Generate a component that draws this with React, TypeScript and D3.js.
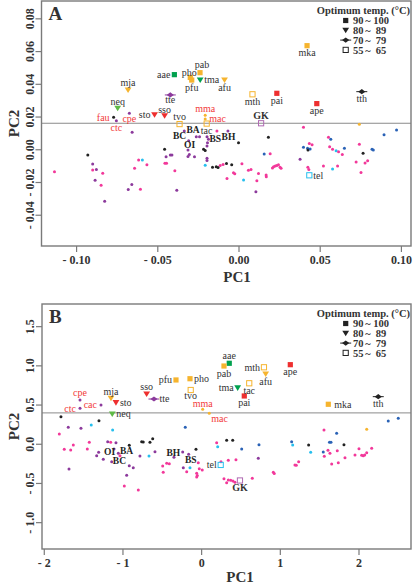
import React from 'react';
import * as d3 from 'd3';

const FONT = '"Liberation Serif","Times New Roman",serif';

const COLORS: Record<string, string> = {
  k: '#222222', p: '#8C3A9C', m: '#F2389A', c: '#26BFEE', b: '#2A62B6',
  o: '#F6B42E', r: '#EE2F2F', g: '#00A14E', y: '#5FB946', v: '#B06AB3',
};

const RED_LABELS = ['fau', 'cpe', 'ctc', 'mma', 'mac', 'cac'];
const BOLD_LABELS = ['GK'];

// ---------- Panel A data ----------
const labeledA: [string, number, number, string, string][] = [
  ['aae', -0.0398, 0.0459, 'g', 'sq'],
  ['pab', -0.0240, 0.0471, 'o', 'sq'],
  ['pho', -0.0300, 0.0442, 'o', 'sq'],
  ['pfu', -0.0291, 0.0426, 'o', 'sq'],
  ['tma', -0.0239, 0.0426, 'g', 'tri'],
  ['afu', -0.0089, 0.0426, 'o', 'tri'],
  ['mja', -0.0683, 0.0365, 'o', 'tri'],
  ['tte', -0.0423, 0.0335, 'p', 'dia'],
  ['neq', -0.0747, 0.0253, 'y', 'tri'],
  ['fau', -0.0772, 0.0198, 'k', 'dot'],
  ['cpe', -0.0675, 0.0223, 'p', 'dot'],
  ['ctc', -0.0755, 0.0178, 'p', 'dot'],
  ['sto', -0.0520, 0.0214, 'r', 'tri'],
  ['sso', -0.0458, 0.0208, 'r', 'tri'],
  ['tvo', -0.0366, 0.0157, 'o', 'open'],
  ['mma', -0.0208, 0.0211, 'o', 'dot'],
  ['mac', -0.0208, 0.0188, 'o', 'dot'],
  ['tac', -0.0199, 0.0160, 'o', 'open'],
  ['GK', 0.0136, 0.0162, 'v', 'open'],
  ['mth', 0.0083, 0.0339, 'o', 'open'],
  ['pai', 0.0233, 0.0345, 'r', 'sq'],
  ['mka', 0.0419, 0.0636, 'o', 'sq'],
  ['ape', 0.0479, 0.0282, 'r', 'sq'],
  ['tth', 0.0756, 0.0355, 'k', 'dia'],
  ['tel', 0.0433, -0.0156, 'c', 'open'],
];

const placeA: Record<string, string> = {
  aae: 'l', pab: 't', pho: 't', pfu: 'b', tma: 'r', afu: 'b', mja: 't', tte: 'b', neq: 't',
  fau: 'l', cpe: 'b', ctc: 'b', sto: 'l', sso: 't', tvo: 't', mma: 't', mac: 'r', tac: 'b',
  GK: 't', mth: 'b', pai: 'b', mka: 'b', ape: 'b', tth: 'b', tel: 'r',
};
const nudgeA: Record<string, [number, number]> = {
  pab: [2, -0.8], pho: [-1, 2], tte: [0, -2], sso: [0, 1.5], cpe: [0, -2], mma: [0, 1],
};

const clustersA: [string, number, number][] = [
  ['BA', -0.0283, 0.0121], ['BC', -0.0366, 0.0084], ['OI', -0.0304, 0.0033],
  ['BS', -0.0146, 0.0068], ['BH', -0.0065, 0.0080],
];

const dotsA: [number, number, string][] = [
  [-0.0658, 0.0107, 'p'], [-0.0458, 0.0003, 'k'], [-0.0337, 0.0115, 'p'], [-0.0263, 0.0080, 'p'],
  [-0.0243, 0.0080, 'p'], [-0.0310, 0.0055, 'p'], [-0.0197, 0.0080, 'p'], [-0.0188, 0.0064, 'p'],
  [-0.0194, 0.0043, 'p'], [-0.0136, 0.0115, 'm'], [-0.0068, 0.0115, 'p'], [-0.0003, 0.0043, 'k'],
  [-0.0314, -0.0002, 'p'], [-0.0218, 0.0003, 'k'], [-0.0208, -0.0005, 'k'], [-0.0197, 0.0023, 'p'],
  [-0.0449, -0.0042, 'p'], [-0.0423, -0.0032, 'p'], [-0.0413, -0.0032, 'p'], [-0.0314, -0.0041, 'p'],
  [-0.0306, -0.0029, 'p'], [-0.0274, -0.0042, 'p'], [-0.0197, -0.0052, 'p'], [-0.0197, -0.0066, 'p'],
  [-0.0456, -0.0083, 'm'], [-0.0446, -0.0083, 'm'], [-0.0618, -0.0063, 'm'], [-0.0595, -0.0063, 'c'],
  [-0.0567, -0.0092, 'm'], [-0.0643, -0.0113, 'm'], [-0.0208, -0.0095, 'c'], [-0.0163, -0.0107, 'k'],
  [-0.0140, -0.0104, 'k'], [-0.0129, -0.0109, 'k'], [-0.0116, -0.0096, 'm'], [-0.0098, -0.0090, 'm'],
  [-0.0077, -0.0084, 'k'], [-0.0045, -0.0091, 'k'], [0.0018, -0.0086, 'm'], [0.0058, -0.0125, 'm'],
  [0.0074, -0.0121, 'm'], [-0.0034, -0.0141, 'm'], [-0.0026, -0.0147, 'm'], [0.0028, -0.0185, 'c'],
  [-0.0074, -0.0175, 'm'], [-0.0395, -0.0128, 'm'], [-0.0660, -0.0212, 'p'], [-0.0682, -0.0243, 'p'],
  [-0.0607, -0.0242, 'm'], [-0.0383, -0.0247, 'p'], [-0.0931, -0.0032, 'k'], [-0.0901, -0.0087, 'p'],
  [-0.1136, -0.0134, 'm'], [-0.0901, -0.0124, 'm'], [-0.0878, -0.0120, 'p'], [-0.0839, -0.0144, 'm'],
  [-0.0886, -0.0187, 'p'], [-0.0849, -0.0217, 'm'], [-0.0827, -0.0315, 'p'], [0.0104, -0.0256, 'p'],
  [0.0110, -0.0189, 'm'], [0.0120, -0.0145, 'm'], [0.0155, -0.0026, 'b'], [0.0192, -0.0025, 'm'],
  [0.0167, -0.0154, 'm'], [0.0168, -0.0165, 'm'], [0.0206, -0.0112, 'm'], [0.0213, -0.0104, 'm'],
  [0.0223, -0.0099, 'm'], [0.0233, -0.0096, 'm'], [0.0243, -0.0091, 'm'], [0.0253, -0.0107, 'm'],
  [0.0259, -0.0113, 'm'], [0.0376, -0.0058, 'p'], [0.0397, 0.0137, 'm'], [0.0181, 0.0076, 'k'],
  [0.0397, 0.0015, 'b'], [0.0422, 0.0009, 'b'], [0.0425, -0.0002, 'k'], [0.0438, 0.0005, 'b'],
  [0.0433, 0.0039, 'm'], [0.0450, 0.0031, 'm'], [0.0424, -0.0107, 'm'], [0.0430, -0.0120, 'm'],
  [0.0520, -0.0099, 'm'], [0.0551, 0.0076, 'm'], [0.0565, 0.0064, 'b'], [0.0558, 0.0019, 'm'],
  [0.0576, 0.0003, 'm'], [0.0598, -0.0006, 'c'], [0.0613, -0.0012, 'm'], [0.0636, -0.0029, 'm'],
  [0.0649, 0.0009, 'b'], [0.0576, -0.0118, 'c'], [0.0607, -0.0099, 'm'], [0.0721, -0.0074, 'm'],
  [0.0741, 0.0034, 'm'], [0.0741, 0.0156, 'o'], [0.0751, -0.0139, 'm'], [0.0764, -0.0022, 'k'],
  [0.0776, -0.0081, 'm'], [0.0792, -0.0067, 'm'], [0.0819, 0.0003, 'b'], [0.0827, -0.0002, 'b'],
  [0.0893, 0.0092, 'b'], [0.0970, 0.0121, 'b'],
];

const xTicksA = [-0.10, -0.05, 0.00, 0.05, 0.10];
const yTicksA = [-0.04, -0.02, 0.00, 0.02, 0.04, 0.06, 0.08];

// ---------- Panel B data ----------
const labeledB: [string, number, number, string, string][] = [
  ['cpe', -1.546, 0.565, 'p', 'dot'],
  ['ctc', -1.546, 0.459, 'p', 'dot'],
  ['cac', -1.279, 0.501, 'p', 'dot'],
  ['mja', -1.152, 0.586, 'o', 'tri'],
  ['sto', -1.089, 0.530, 'r', 'tri'],
  ['neq', -1.136, 0.386, 'y', 'tri'],
  ['sso', -0.699, 0.641, 'r', 'tri'],
  ['tte', -0.606, 0.577, 'p', 'dia'],
  ['pfu', -0.326, 0.820, 'o', 'sq'],
  ['pho', -0.148, 0.836, 'o', 'sq'],
  ['tvo', -0.139, 0.692, 'o', 'open'],
  ['mma', 0.013, 0.446, 'o', 'dot'],
  ['mac', 0.097, 0.395, 'o', 'dot'],
  ['aae', 0.351, 1.033, 'g', 'sq'],
  ['pab', 0.284, 0.998, 'o', 'sq'],
  ['mth', 0.792, 0.982, 'o', 'open'],
  ['afu', 0.814, 0.896, 'o', 'tri'],
  ['ape', 1.127, 1.015, 'r', 'sq'],
  ['tma', 0.458, 0.718, 'g', 'tri'],
  ['tac', 0.605, 0.778, 'o', 'open'],
  ['pai', 0.542, 0.616, 'r', 'sq'],
  ['mka', 1.610, 0.510, 'o', 'sq'],
  ['tth', 2.245, 0.607, 'k', 'dia'],
  ['tel', 0.242, -0.264, 'c', 'open'],
  ['GK', 0.487, -0.462, 'v', 'open'],
];

const placeB: Record<string, string> = {
  cpe: 't', ctc: 'l', cac: 'l', mja: 't', sto: 'r', neq: 'r', sso: 't', tte: 'r', pfu: 'l',
  pho: 'r', tvo: 'b', mma: 't', mac: 'rb', aae: 't', pab: 'b', mth: 'l', afu: 'b', ape: 'b',
  tma: 'l', tac: 'b', pai: 'b', mka: 'r', tth: 'b', tel: 'l', GK: 'b',
};
const nudgeB: Record<string, [number, number]> = {
  tvo: [0, -1.5], mma: [0, 2], mka: [2, 0], tte: [1.5, 0],
};

const clustersB: [string, number, number][] = [
  ['OI', -1.170, -0.100], ['BA', -0.955, -0.086], ['BC', -1.045, -0.212],
  ['BH', -0.360, -0.108], ['BS', -0.139, -0.201],
];

const dotsB: [number, number, string][] = [
  [-1.788, 0.352, 'k'], [-1.809, 0.131, 'm'], [-1.695, 0.216, 'p'], [-1.534, 0.204, 'p'],
  [-1.403, 0.246, 'c'], [-1.305, 0.301, 'k'], [-1.131, 0.182, 'c'], [-1.746, -0.064, 'm'],
  [-1.664, -0.073, 'm'], [-1.631, -0.009, 'm'], [-1.428, 0.025, 'm'], [-1.453, -0.060, 'm'],
  [-1.309, -0.102, 'p'], [-1.334, -0.146, 'p'], [-1.686, -0.315, 'p'], [-1.250, -0.192, 'p'],
  [-1.194, 0.033, 'p'], [-1.156, 0.025, 'm'], [-1.089, 0.020, 'p'], [-1.114, -0.060, 'p'],
  [-1.143, -0.222, 'p'], [-1.059, -0.115, 'p'], [-1.038, -0.146, 'm'], [-0.920, -0.013, 'k'],
  [-0.920, -0.273, 'p'], [-0.869, -0.299, 'p'], [-0.953, -0.396, 'p'], [-0.983, -0.532, 'm'],
  [-0.805, -0.583, 'm'], [-0.784, -0.150, 'p'], [-0.762, 0.033, 'k'], [-0.742, 0.029, 'k'],
  [-0.657, 0.025, 'k'], [-0.622, 0.071, 'k'], [-0.669, -0.150, 'c'], [-0.593, -0.095, 'p'],
  [-0.495, -0.277, 'm'], [-0.488, -0.358, 'm'], [-0.444, -0.243, 'm'], [-0.411, -0.248, 'm'],
  [-0.352, -0.166, 'p'], [-0.241, -0.099, 'p'], [-0.233, -0.299, 'p'], [-0.208, 0.216, 'b'],
  [-0.190, -0.350, 'm'], [-0.165, -0.128, 'p'], [-0.148, -0.299, 'c'], [-0.072, -0.064, 'k'],
  [-0.043, -0.235, 'm'], [-0.030, -0.312, 'm'], [0.008, -0.328, 'm'], [-0.063, -0.370, 'm'],
  [-0.055, -0.398, 'm'], [-0.063, -0.417, 'm'], [0.191, 0.020, 'm'], [0.204, -0.031, 'c'],
  [0.318, 0.051, 'k'], [0.395, 0.051, 'k'], [0.509, -0.060, 'b'], [0.729, -0.005, 'b'],
  [0.246, -0.222, 'm'], [0.339, -0.204, 'm'], [0.436, -0.197, 'm'], [0.284, -0.439, 'm'],
  [0.318, -0.490, 'm'], [0.339, -0.456, 'm'], [0.369, -0.460, 'm'], [0.398, -0.468, 'm'],
  [0.424, -0.485, 'm'], [0.644, -0.434, 'm'], [0.720, -0.179, 'p'], [0.911, -0.358, 'm'],
  [0.923, -0.373, 'm'], [1.144, 0.033, 'b'], [1.157, -0.009, 'c'], [1.186, -0.264, 'm'],
  [1.203, -0.268, 'm'], [1.233, -0.222, 'm'], [1.360, -0.009, 'k'], [1.386, -0.102, 'c'],
  [1.555, 0.182, 'm'], [1.546, -0.099, 'b'], [1.559, -0.153, 'm'], [1.606, -0.077, 'm'],
  [1.625, 0.025, 'b'], [1.644, 0.025, 'b'], [1.631, -0.115, 'm'], [1.653, -0.252, 'm'],
  [1.716, 0.140, 'b'], [1.724, -0.082, 'm'], [1.737, -0.235, 'm'], [1.809, -0.005, 'k'],
  [1.822, -0.171, 'm'], [1.949, -0.137, 'm'], [2.000, -0.057, 'm'], [2.034, -0.141, 'm'],
  [2.054, -0.146, 'm'], [2.072, -0.137, 'm'], [2.098, -0.108, 'm'], [2.161, -0.051, 'm'],
  [2.098, 0.191, 'o'], [2.372, 0.297, 'b'], [2.499, 0.331, 'b'],
];

const xTicksB = [-2, -1, 0, 1, 2];
const yTicksB = [-1.0, -0.5, 0.0, 0.5, 1.0, 1.5];

const legendLabels: [string, string][] = [['90', '100'], ['80', '89'], ['70', '79'], ['55', '65']];
const legendShapes = ['sq', 'tri', 'dia', 'open'];

function neg(s: string, v: number) {
  return v < 0 ? '- ' + s.replace('-', '') : s;
}

function Marker({ shape, x, y, color }: { shape: string; x: number; y: number; color: string }) {
  if (shape === 'sq') return <rect x={x - 2.6} y={y - 2.6} width={5.2} height={5.2} fill={color} />;
  if (shape === 'open')
    return <rect x={x - 2.6} y={y - 2.6} width={5.2} height={5.2} fill="none" stroke={color} strokeWidth={1} />;
  if (shape === 'tri')
    return <polygon points={`${x - 3.4},${y - 2.6} ${x + 3.4},${y - 2.6} ${x},${y + 3}`} fill={color} />;
  if (shape === 'dia')
    return (
      <g>
        <line x1={x - 5.5} x2={x + 5.5} y1={y} y2={y} stroke={color} strokeWidth={1} />
        <polygon points={`${x - 3.6},${y} ${x},${y - 2.6} ${x + 3.6},${y} ${x},${y + 2.6}`} fill={color} />
      </g>
    );
  return <circle cx={x} cy={y} r={1.5} fill={color} />;
}

function labelPos(side: string, px: number, py: number) {
  switch (side) {
    case 't': return { x: px, y: py - 3.8, a: 'middle' };
    case 'b': return { x: px, y: py + 10.5, a: 'middle' };
    case 'l': return { x: px - 4, y: py + 3.3, a: 'end' };
    case 'rb': return { x: px + 2, y: py + 8.5, a: 'start' };
    default: return { x: px + 4, y: py + 3.3, a: 'start' };
  }
}

interface PanelProps {
  left: number; right: number; top: number; bottom: number;
  xDomain: [number, number]; yDomain: [number, number];
  xTicks: number[]; yTicks: number[];
  xFmt: (v: number) => string; yFmt: (v: number) => string;
  hline: number;
  dots: [number, number, string][];
  labeled: [string, number, number, string, string][];
  place: Record<string, string>;
  nudge: Record<string, [number, number]>;
  clusters: [string, number, number][];
  letter: string;
  pc1X: number;
  pc1Dy: number;
}

function Panel(p: PanelProps) {
  const x = d3.scaleLinear().domain(p.xDomain).range([p.left, p.right]);
  const y = d3.scaleLinear().domain(p.yDomain).range([p.bottom, p.top]);
  const frame = '#7a7a7a';
  const midY = (p.top + p.bottom) / 2;
  return (
    <g>
      <line x1={p.left} x2={p.right} y1={y(p.hline)} y2={y(p.hline)} stroke="#8a8a8a" strokeWidth={1} />
      {p.dots.map((d, i) => (
        <circle key={i} cx={x(d[0])} cy={y(d[1])} r={1.5} fill={COLORS[d[2]]} />
      ))}
      {p.labeled.map((d) => (
        <Marker key={d[0]} shape={d[4]} x={x(d[1])} y={y(d[2])} color={COLORS[d[3]]} />
      ))}
      {p.labeled.map((d) => {
        const lp = labelPos(p.place[d[0]], x(d[1]), y(d[2]));
        const n = p.nudge[d[0]] || [0, 0];
        return (
          <text key={'t' + d[0]} x={lp.x + n[0]} y={lp.y + n[1]} textAnchor={lp.a} fontSize={10}
            fill={RED_LABELS.includes(d[0]) ? '#F23A3A' : '#333'}
            fontWeight={BOLD_LABELS.includes(d[0]) ? 'bold' : 'normal'}>
            {d[0]}
          </text>
        );
      })}
      {p.clusters.map((c) => (
        <text key={c[0]} x={x(c[1])} y={y(c[2]) + 3.3} textAnchor="middle" fontSize={9.5} fontWeight="bold" fill="#222">
          {c[0]}
        </text>
      ))}
      <rect x={p.left} y={p.top} width={p.right - p.left} height={p.bottom - p.top} fill="none" stroke={frame} strokeWidth={1.4} />
      {p.xTicks.map((t) => (
        <g key={'x' + t}>
          <line x1={x(t)} x2={x(t)} y1={p.bottom} y2={p.bottom + 6} stroke={frame} strokeWidth={1.2} />
          <text x={x(t)} y={p.bottom + 17.5} textAnchor="middle" fontSize={12} fontWeight="bold" fill="#333">
            {p.xFmt(t)}
          </text>
        </g>
      ))}
      {p.yTicks.map((t) => (
        <g key={'y' + t}>
          <line x1={p.left - 6} x2={p.left} y1={y(t)} y2={y(t)} stroke={frame} strokeWidth={1.2} />
          <text transform={`translate(${p.left - 8},${y(t)}) rotate(-90)`} textAnchor="middle" fontSize={12} fontWeight="bold" fill="#333">
            {p.yFmt(t)}
          </text>
        </g>
      ))}
      <text x={p.pc1X} y={p.bottom + p.pc1Dy} textAnchor="middle" fontSize={15} fontWeight="bold" fill="#333">PC1</text>
      <text transform={`translate(19,${midY}) rotate(-90)`} textAnchor="middle" fontSize={15} fontWeight="bold" fill="#333">PC2</text>
      <text x={p.left + 7} y={p.top + 19} fontSize={19} fontWeight="bold" fill="#333">{p.letter}</text>
      <text x={410} y={p.top + 12.5} textAnchor="end" fontSize={10.5} fontWeight="bold" fill="#333">Optimum temp. (°C)</text>
      {legendLabels.map((l, i) => {
        const ly = p.top + 19.5 + i * 9.8;
        return (
          <g key={'lg' + i}>
            <Marker shape={legendShapes[i]} x={345.7} y={ly} color="#222" />
            <text x={353} y={ly + 3.6} fontSize={10.5} fontWeight="bold" fill="#333">{l[0]}</text>
            <text x={368} y={ly + 3.6} textAnchor="middle" fontSize={10.5} fontWeight="bold" fill="#333">~</text>
            <text x={l[1].length === 3 ? 373.3 : 375.7} y={ly + 3.6} fontSize={10.5} fontWeight="bold" fill="#333">{l[1]}</text>
          </g>
        );
      })}
    </g>
  );
}

export default function App() {
  return (
    <svg width={413} height={583} style={{ position: 'absolute', left: 0, top: 0, background: '#fff' }} fontFamily={FONT}>
      <Panel
        left={41.5} right={411} top={1} bottom={246}
        xDomain={[-0.1216, 0.1059]} yDomain={[-0.0588, 0.0909]}
        xTicks={xTicksA} yTicks={yTicksA}
        xFmt={(v) => neg(v.toFixed(2), v)} yFmt={(v) => neg(v.toFixed(2), v)}
        hline={0.0162} dots={dotsA} labeled={labeledA} place={placeA} nudge={nudgeA} clusters={clustersA}
        letter="A" pc1X={237} pc1Dy={36}
      />
      <Panel
        left={42} right={411} top={304} bottom={549}
        xDomain={[-2.029, 2.661]} yDomain={[-1.336, 1.789]}
        xTicks={xTicksB} yTicks={yTicksB}
        xFmt={(v) => neg(String(v), v)} yFmt={(v) => neg(v.toFixed(1), v)}
        hline={0.40} dots={dotsB} labeled={labeledB} place={placeB} nudge={nudgeB} clusters={clustersB}
        letter="B" pc1X={240} pc1Dy={32.5}
      />
    </svg>
  );
}
